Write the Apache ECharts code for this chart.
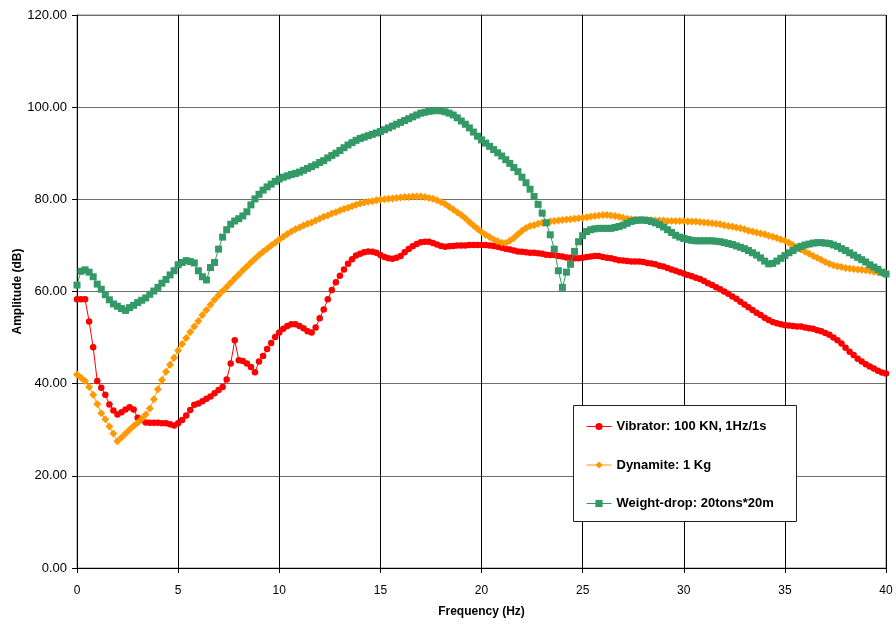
<!DOCTYPE html>
<html>
<head>
<meta charset="utf-8">
<script src="https://cdn.jsdelivr.net/npm/echarts@6/dist/echarts.min.js"></script>
<style>
html,body{margin:0;padding:0;background:#fff;}
#c{width:896px;height:624px;}
</style>
</head>
<body>
<div id="c"></div>
<script>
// Frequency step of the measured spectra (Hz)
const freqStep = 0.2;
const xTicks = [0, 5, 10, 15, 20, 25, 30, 35, 40];
const yTicks = [0, 20, 40, 60, 80, 100, 120];

const seriesNames = ['Vibrator: 100 KN, 1Hz/1s', 'Dynamite: 1 Kg', 'Weight-drop: 20tons*20m'];

const vibrator = [
58.3,58.3,58.3,53.5,47.9,40.6,39.1,37.6,35.5,34.2,
33.3,33.8,34.4,34.9,34.4,32.6,32.1,31.6,31.5,31.5,
31.5,31.4,31.4,31.2,30.9,31.4,32.1,33.1,34.3,35.4,
35.7,36.2,36.7,37.2,37.9,38.6,39.3,40.9,44.4,49.4,
45.1,44.9,44.4,43.6,42.5,44.8,46.0,47.5,48.8,50.1,
51.1,51.9,52.5,52.9,52.9,52.5,52.0,51.4,51.1,52.2,
54.2,56.1,58.3,60.3,62.0,63.4,64.8,66.0,67.0,67.8,
68.2,68.5,68.7,68.6,68.4,67.9,67.5,67.2,67.1,67.3,
67.7,68.5,69.2,69.8,70.3,70.7,70.8,70.8,70.5,70.2,
69.9,69.7,69.8,69.9,70.0,70.0,70.0,70.1,70.1,70.1,
70.1,70.1,70.0,69.9,69.7,69.5,69.3,69.1,68.9,68.7,
68.6,68.5,68.4,68.4,68.3,68.2,68.0,67.9,67.9,67.7,
67.6,67.4,67.3,67.2,67.2,67.3,67.5,67.6,67.7,67.7,
67.5,67.3,67.2,67.0,66.8,66.7,66.6,66.5,66.5,66.5,
66.4,66.2,66.1,65.9,65.6,65.4,65.1,64.8,64.5,64.2,
63.9,63.6,63.3,63.0,62.7,62.3,61.8,61.4,60.9,60.5,
60.0,59.5,58.9,58.4,57.8,57.2,56.6,56.0,55.4,54.9,
54.3,53.8,53.4,53.1,52.9,52.7,52.6,52.5,52.4,52.4,
52.2,52.0,51.9,51.6,51.4,51.0,50.6,50.0,49.4,48.7,
47.8,46.9,46.2,45.4,44.8,44.2,43.7,43.3,42.8,42.4,
42.2
];

const dynamite = [
42.0,41.3,40.6,39.3,37.6,35.6,33.6,32.3,30.7,29.2,
27.5,28.3,29.2,30.0,30.8,31.5,32.4,33.3,34.6,36.6,
38.8,40.8,42.6,44.1,45.6,47.2,48.6,49.9,51.2,52.4,
53.6,54.9,56.0,57.1,58.2,59.2,60.1,61.0,61.9,62.8,
63.7,64.6,65.4,66.3,67.1,67.9,68.6,69.3,70.0,70.6,
71.3,71.9,72.5,73.0,73.5,73.9,74.3,74.7,75.0,75.4,
75.8,76.2,76.5,76.9,77.2,77.6,77.9,78.2,78.5,78.8,
79.1,79.3,79.5,79.6,79.8,79.9,80.0,80.1,80.2,80.3,
80.4,80.5,80.5,80.6,80.6,80.6,80.5,80.3,80.1,79.8,
79.4,79.0,78.4,77.8,77.2,76.6,75.9,75.1,74.3,73.6,
72.9,72.3,71.8,71.3,70.9,70.6,70.5,71.0,71.6,72.4,
73.2,73.8,74.2,74.4,74.7,74.9,75.0,75.2,75.3,75.4,
75.5,75.6,75.7,75.8,75.9,76.0,76.1,76.3,76.4,76.5,
76.6,76.6,76.5,76.4,76.2,76.0,75.8,75.7,75.6,75.5,
75.5,75.5,75.5,75.4,75.4,75.4,75.3,75.3,75.3,75.3,
75.3,75.2,75.2,75.2,75.1,75.0,74.9,74.8,74.7,74.6,
74.4,74.2,74.1,73.9,73.7,73.5,73.2,73.0,72.8,72.6,
72.4,72.1,71.9,71.6,71.3,71.0,70.6,70.1,69.6,69.1,
68.6,68.2,67.7,67.3,66.9,66.4,66.0,65.7,65.5,65.3,
65.1,65.0,64.9,64.8,64.7,64.6,64.5,64.3,64.2,64.0,
63.9
];

const weightDrop = [
61.4,64.4,64.7,64.2,63.2,61.6,60.5,59.3,58.2,57.3,
56.8,56.3,55.9,56.5,57.0,57.6,58.1,58.6,59.4,60.1,
60.9,61.8,62.6,63.6,64.5,65.8,66.3,66.7,66.5,66.2,
64.5,63.2,62.5,65.2,66.3,69.2,71.8,73.4,74.6,75.3,
75.8,76.4,77.3,78.8,80.1,81.1,82.0,82.7,83.3,83.9,
84.4,84.8,85.1,85.4,85.6,85.9,86.3,86.7,87.1,87.5,
88.0,88.4,89.0,89.5,90.0,90.6,91.2,91.8,92.3,92.8,
93.2,93.5,93.8,94.1,94.4,94.7,95.1,95.5,95.9,96.3,
96.7,97.1,97.5,97.9,98.3,98.7,98.9,99.1,99.2,99.3,
99.2,99.0,98.7,98.3,97.7,97.0,96.3,95.5,94.6,93.7,
92.9,92.2,91.5,90.8,90.1,89.4,88.6,87.8,86.9,86.0,
84.8,83.6,82.2,80.6,78.9,77.0,74.9,72.3,69.2,64.5,
60.9,64.2,65.9,68.7,70.8,72.1,73.0,73.4,73.6,73.7,
73.7,73.7,73.7,73.9,74.1,74.4,74.8,75.2,75.4,75.5,
75.5,75.4,75.2,74.9,74.5,74.0,73.4,72.8,72.2,71.8,
71.5,71.3,71.1,71.0,71.0,71.0,71.0,71.0,70.9,70.8,
70.6,70.4,70.2,69.9,69.6,69.3,68.9,68.4,67.9,67.3,
66.6,66.0,66.1,66.6,67.2,67.8,68.4,68.9,69.4,69.8,
70.1,70.3,70.5,70.6,70.6,70.5,70.4,70.1,69.8,69.3,
68.9,68.4,67.9,67.4,66.9,66.4,65.8,65.3,64.8,64.2,
63.8
];

function pairs(vals) {
  return vals.map((v, i) => [Math.round(i * freqStep * 100) / 100, v]);
}

const FONT = '"Liberation Sans", Arial, sans-serif';
const chart = echarts.init(document.getElementById('c'), null, {renderer: 'canvas'});

chart.setOption({
  animation: false,
  backgroundColor: '#ffffff',
  grid: {
    left: 77, right: 10, top: 15, bottom: 56, outerBoundsMode: 'none',
    show: true, borderColor: '#808080', borderWidth: 1, backgroundColor: 'transparent'
  },
  xAxis: {
    type: 'value', min: xTicks[0], max: xTicks[xTicks.length - 1], interval: 5,
    name: 'Frequency (Hz)', nameLocation: 'middle', nameGap: 38,
    nameTextStyle: {fontFamily: FONT, fontSize: 12, fontWeight: 'bold', color: '#000'},
    axisLine: {show: true, onZero: false, lineStyle: {color: '#000', width: 1}},
    axisTick: {show: true, inside: false, length: 5, lineStyle: {color: '#000'}},
    axisLabel: {fontFamily: FONT, fontSize: 12, color: '#000', margin: 17},
    splitLine: {show: true, lineStyle: {color: '#000', width: 1}}
  },
  yAxis: {
    type: 'value', min: yTicks[0], max: yTicks[yTicks.length - 1], interval: 20,
    name: 'Amplitude (dB)', nameLocation: 'middle', nameGap: 53, nameRotate: 90,
    nameMoveOverlap: false,
    nameTextStyle: {fontFamily: FONT, fontSize: 12, fontWeight: 'bold', color: '#000'},
    axisLine: {show: true, lineStyle: {color: '#000', width: 1}},
    axisTick: {show: true, inside: false, length: 5, lineStyle: {color: '#000'}},
    axisLabel: {fontFamily: FONT, fontSize: 13, color: '#000', margin: 10,
      formatter: v => v.toFixed(2)},
    splitLine: {show: true, lineStyle: {color: '#6e6e6e', width: 1}}
  },
  graphic: [{
    type: 'rect', left: 573, top: 405, z: 90,
    shape: {width: 223, height: 116},
    style: {fill: '#fff', stroke: '#222', lineWidth: 1}
  }],
  legend: {
    orient: 'vertical', left: 586, top: 420, z: 100, padding: 0,
    itemWidth: 25, itemHeight: 9, itemGap: 25.5,
    lineStyle: {width: 1},
    textStyle: {fontFamily: FONT, fontSize: 13, fontWeight: 'bold', color: '#000'},
    data: seriesNames.map(n => ({name: n}))
  },
  series: [
    {
      name: seriesNames[0], type: 'line', data: pairs(vibrator),
      symbol: 'circle', symbolSize: 6.5, showAllSymbol: true,
      lineStyle: {color: '#ff0000', width: 1}, itemStyle: {color: '#ff0000'}, z: 2
    },
    {
      name: seriesNames[1], type: 'line', data: pairs(dynamite),
      symbol: 'diamond', symbolSize: 8, showAllSymbol: true,
      lineStyle: {color: '#ff9900', width: 1}, itemStyle: {color: '#ff9900'}, z: 3
    },
    {
      name: seriesNames[2], type: 'line', data: pairs(weightDrop),
      symbol: 'rect', symbolSize: 7, showAllSymbol: true,
      lineStyle: {color: '#339966', width: 1}, itemStyle: {color: '#339966'}, z: 4
    }
  ]
});
</script>
</body>
</html>
